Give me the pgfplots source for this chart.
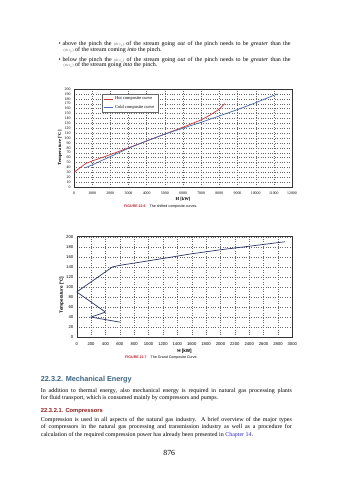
\documentclass[border=0pt]{standalone}
\usepackage{fontspec}
\setmainfont{Liberation Serif}
\setsansfont{Liberation Sans}
\usepackage{pgfplots}
\pgfplotsset{compat=1.18}
\definecolor{hotred}{RGB}{204,51,51}
\definecolor{coldblue}{RGB}{70,105,170}
\definecolor{gccblue}{RGB}{40,52,100}
\definecolor{figred}{RGB}{190,30,45}
\definecolor{headblue}{RGB}{60,100,130}
\definecolor{subred}{RGB}{140,30,30}
\definecolor{linkblue}{RGB}{40,40,200}
\newcommand\bodyfont{\fontsize{6.0}{6.5}\selectfont}
\newcommand\mcp{{\fontsize{3.8}{4}\selectfont\color{black!60}(\.m·c\textsubscript{p})}}
\begin{document}
\begin{tikzpicture}
\begin{scope}[x=1bp,y=1bp]
\useasboundingbox (0,0) rectangle (339,480);
\fill[white] (0,0) rectangle (339,480);
% top text
\node[anchor=mid west,inner sep=0] at (58.5,436.5) {\bodyfont\textbullet};
\node[anchor=mid west,inner sep=0] at (62.3,436.5) {\bodyfont\makebox[228bp][s]{above the pinch the \mcp{} of the stream going \emph{out} of the pinch needs to be \emph{greater} than the}};
\node[anchor=mid west,inner sep=0] at (63.3,431) {\bodyfont \mcp{} of the stream coming \emph{into} the pinch.};
\node[anchor=mid west,inner sep=0] at (58.5,421.2) {\bodyfont\textbullet};
\node[anchor=mid west,inner sep=0] at (62.3,421.2) {\bodyfont\makebox[228bp][s]{below the pinch the \mcp{} of the stream going \emph{out} of the pinch needs to be \emph{greater} than the}};
\node[anchor=mid west,inner sep=0] at (63.3,415.5) {\bodyfont \mcp{} of the stream going \emph{into} the pinch.};
\node[anchor=mid west,inner sep=0] at (124,274.3) {\sffamily\fontsize{3.6}{4}\selectfont\textcolor{figred}{\textbf{FIGURE 22.6}}\hspace{4bp}The shifted composite curves.};
\node[anchor=mid west,inner sep=0] at (125,124) {\sffamily\fontsize{3.6}{4}\selectfont\textcolor{figred}{\textbf{FIGURE 22.7}}\hspace{4bp}The Grand Composite Curve.};
% bottom text
\node[anchor=mid west,inner sep=0] at (40.7,100.7) {\sffamily\bfseries\fontsize{7.3}{8}\selectfont\color{headblue}22.3.2. Mechanical Energy};
\node[anchor=mid west,inner sep=0] at (40.7,90) {\bodyfont\makebox[251bp][s]{In addition to thermal energy, also mechanical energy is required in natural gas processing plants}};
\node[anchor=mid west,inner sep=0] at (40.7,82.5) {\bodyfont for fluid transport, which is consumed mainly by compressors and pumps.};
\node[anchor=mid west,inner sep=0] at (40.7,69.3) {\sffamily\bfseries\fontsize{5.8}{6}\selectfont\color{subred}22.3.2.1. Compressors};
\node[anchor=mid west,inner sep=0] at (40.7,60.7) {\bodyfont\makebox[251bp][s]{Compression is used in all aspects of the natural gas industry. A brief overview of the major types}};
\node[anchor=mid west,inner sep=0] at (40.7,53.4) {\bodyfont\makebox[251bp][s]{of compressors in the natural gas processing and transmission industry as well as a procedure for}};
\node[anchor=mid west,inner sep=0] at (40.7,46.2) {\bodyfont calculation of the required compression power has already been presented in \textcolor{linkblue}{Chapter 14}.};
\node[anchor=mid,inner sep=0] at (169.3,26.7) {\fontsize{7.8}{8}\selectfont 876};
\end{scope}

% chart 1
\begin{axis}[at={(74bp,293bp)}, anchor=south west, scale only axis,
  width=218bp, height=98bp,
  xmin=0, xmax=12000, ymin=0, ymax=200,
  xtick={0,1000,...,12000}, ytick={0,10,...,200},
  scaled ticks=false,
  /pgf/number format/1000 sep={},
  /pgf/number format/assume math mode=true,
  grid=major, grid style={dotted, black!60, line width=0.35pt},
  axis line style={line width=0.4pt, black!80},
  major tick length=0pt,
  ticklabel style={font=\fontsize{3.9}{4}\selectfont},
  xticklabel style={yshift=-1.8bp},
  xlabel={H [kW]}, ylabel={Temperature [°C]},
  label style={font=\fontsize{4.6}{5}\selectfont\bfseries},
  xlabel style={at={(axis description cs:0.5,-0.125)}, anchor=center},
  ylabel style={at={(axis description cs:-0.064,0.40)}, anchor=center},
  legend style={at={(axis description cs:0.127,0.949)}, anchor=north west,
    font=\fontsize{4.5}{5}\selectfont, draw=black!60, line width=0.3pt,
    inner xsep=1.5pt, inner ysep=0.6pt, row sep=0pt, fill=white},
  legend cell align=left,
  legend image code/.code={\draw[#1] (0bp,0bp) -- (9bp,0bp);},
]
\addplot[hotred, line width=0.7pt] coordinates {
 (0,30) (650,48) (1000,53) (2000,66) (3000,80) (4000,94) (5000,108)
 (6000,122) (7000,137) (7500,147) (8000,159) (8300,170)};
\addlegendentry{Hot composite curve}
\addplot[coldblue, line width=0.7pt] coordinates {
 (600,39) (1000,45) (2000,62) (3000,79) (4000,94) (5000,108) (6000,120)
 (7000,132) (8000,145) (9000,158) (10000,172) (11200,190)};
\addlegendentry{Cold composite curve}
\end{axis}

% chart 2
\begin{axis}[at={(76.7bp,142.8bp)}, anchor=south west, scale only axis,
  width=215.6bp, height=100.5bp,
  xmin=0, xmax=3000, ymin=0, ymax=200,
  xtick={0,200,...,3000}, ytick={0,20,...,200},
  scaled ticks=false,
  /pgf/number format/1000 sep={},
  /pgf/number format/assume math mode=true,
  grid=major, grid style={dotted, black!60, line width=0.35pt},
  axis line style={line width=0.4pt, black!80},
  major tick length=0pt,
  ticklabel style={font=\sffamily\fontsize{4.2}{4.5}\selectfont},
  xticklabel style={yshift=-2bp},
  xlabel={H [kW]}, ylabel={Temperature [°C]},
  label style={font=\sffamily\bfseries\fontsize{4.6}{5}\selectfont},
  xlabel style={at={(axis description cs:0.5,-0.137)}, anchor=center},
  ylabel style={at={(axis description cs:-0.07,0.42)}, anchor=center},
]
\addplot[gccblue, line width=0.7pt] coordinates {
 (600,30) (200,40) (400,50) (0,90) (500,140) (600,143) (1000,152)
 (1600,166) (2000,174) (2400,181) (2900,190)};
\end{axis}
\end{tikzpicture}
\end{document}
